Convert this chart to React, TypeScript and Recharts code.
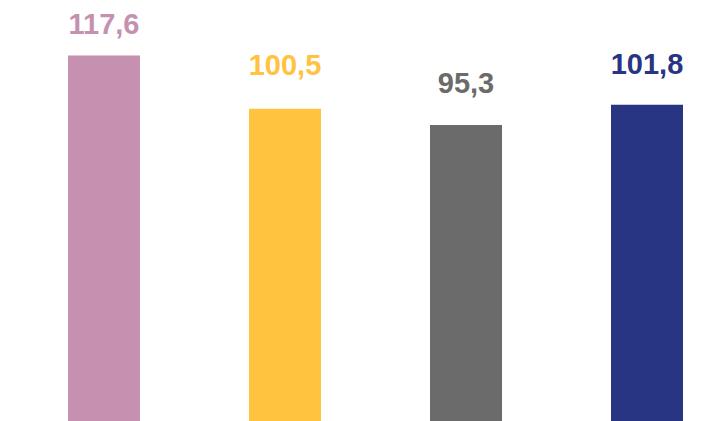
import React from "react";
import { BarChart, Bar, XAxis, YAxis, Cell, LabelList } from "recharts";

const categories = ["A", "B", "C", "D"];
const values = [117.6, 100.5, 95.3, 101.8];

const COLORS = ["#C690B0", "#FFC340", "#6B6B6B", "#283582"];
// distance from bar top to label baseline
const LABEL_GAPS = [22, 34, 32, 31];

const data = categories.map((name, i) => ({ name, value: values[i] }));

const fmt = (v: number) => v.toFixed(1).replace(".", ",");

const ValueLabel = (props: any) => {
  const { x, y, width, index, value } = props;
  return (
    <text
      x={x + width / 2}
      y={y - LABEL_GAPS[index]}
      textAnchor="middle"
      fill={COLORS[index]}
      fontFamily="'Liberation Sans', Arial, sans-serif"
      fontWeight="bold"
      fontSize={29}
    >
      {fmt(value)}
    </text>
  );
};

export default function App() {
  return (
    <div style={{ position: "absolute", left: 0, top: 0, width: 724, height: 421, overflow: "hidden", background: "#fff" }}>
      <BarChart
        width={737}
        height={421}
        data={data}
        margin={{ top: 0, right: 0, left: 13, bottom: 0 }}
        barCategoryGap={0}
      >
        <XAxis dataKey="name" hide />
        <YAxis hide domain={[0, 135.5]} />
        <Bar dataKey="value" barSize={72} isAnimationActive={false}>
          {data.map((entry, index) => (
            <Cell key={`cell-${index}`} fill={COLORS[index]} />
          ))}
          <LabelList dataKey="value" content={ValueLabel} />
        </Bar>
      </BarChart>
    </div>
  );
}
